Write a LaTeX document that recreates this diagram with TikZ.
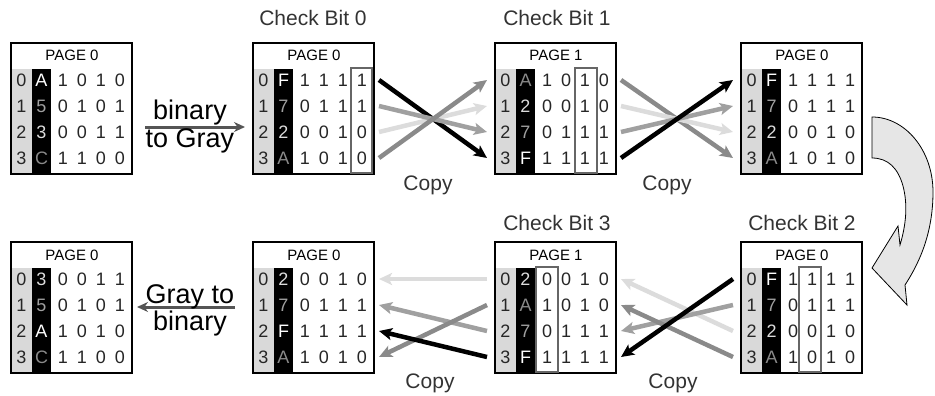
\documentclass[tikz,border=0pt]{standalone}
\usepackage{fontspec}
\setmainfont{Liberation Sans}
\usetikzlibrary{arrows.meta}

\definecolor{idxgray}{HTML}{D9D9D9}
\definecolor{hlgray}{HTML}{666666}
\definecolor{convgray}{HTML}{555555}
\definecolor{bendgray}{HTML}{E6E6E6}
\definecolor{cSeven}{HTML}{A0A0A0}
\definecolor{cTwo}{HTML}{DCDCDC}
\definecolor{cAce}{HTML}{8A8A8A}

% one page of the table: name, left, top, page number, rows
\newcommand{\pagebox}[5]{%
  \begin{scope}[shift={(#2,#3)}]
    \fill[idxgray] (0,26) rectangle (21,131);
    \fill[black] (21,26) rectangle (40,131);
    \node[pagehead] (#1-head) at (61,18) {PAGE #4};
    \foreach \i/\hx/\tc/\ba/\bb/\bc/\bd in {#5} {
      \node[cell] (#1-i\i) at (10.5,37+26*\i) {\i};
      \node[cell, text=\tc] (#1-h\i) at (30.5,37+26*\i) {\hx};
      \node[cell] (#1-a\i) at (52,37+26*\i) {\ba};
      \node[cell] (#1-b\i) at (71,37+26*\i) {\bb};
      \node[cell] (#1-c\i) at (90,37+26*\i) {\bc};
      \node[cell] (#1-d\i) at (109,37+26*\i) {\bd};
      \coordinate (#1-w\i) at (-8,37+26*\i);
      \coordinate (#1-e\i) at (126,37+26*\i);
    }
    \draw[line width=1.5pt] (0,0) rectangle (121,131);
  \end{scope}}

\begin{document}
\begin{tikzpicture}[x=1pt, y=-1pt,
  cell/.style={inner sep=0pt, text=black!85, font=\fontsize{18}{18}\selectfont},
  pagehead/.style={inner sep=0pt, anchor=base, font=\fontsize{15}{15}\selectfont},
  title/.style={inner sep=0pt, anchor=base, text=black!80, font=\fontsize{21}{21}\selectfont},
  big/.style={inner sep=0pt, anchor=base, font=\fontsize{27}{27}\selectfont},
  hl/.style={draw=hlgray, line width=2pt},
  move/.style={line width=4.5pt, -{Stealth[length=13pt, width=12pt, inset=3pt]}},
  conv/.style={draw=convgray, line width=3pt, -{Stealth[length=11pt, width=10pt]}}]
  \useasboundingbox (0,0) rectangle (935,396);

  % top row
  \pagebox{p1}{11}{43}{0}{0/A/white/1/0/1/0, 1/5/cSeven/0/1/0/1,
    2/3/cTwo/0/0/1/1, 3/C/cAce/1/1/0/0}
  \pagebox{cb0}{253}{43}{0}{0/F/white/1/1/1/1, 1/7/cSeven/0/1/1/1,
    2/2/cTwo/0/0/1/0, 3/A/cAce/1/0/1/0}
  \pagebox{cb1}{495}{43}{1}{0/A/cAce/1/0/1/0, 1/2/cTwo/0/0/1/0,
    2/7/cSeven/0/1/1/1, 3/F/white/1/1/1/1}
  \pagebox{p2}{741}{43}{0}{0/F/white/1/1/1/1, 1/7/cSeven/0/1/1/1,
    2/2/cTwo/0/0/1/0, 3/A/cAce/1/0/1/0}

  % bottom row
  \pagebox{p4}{11}{242}{0}{0/3/cTwo/0/0/1/1, 1/5/cSeven/0/1/0/1,
    2/A/white/1/0/1/0, 3/C/cAce/1/1/0/0}
  \pagebox{p3}{253}{242}{0}{0/2/cTwo/0/0/1/0, 1/7/cSeven/0/1/1/1,
    2/F/white/1/1/1/1, 3/A/cAce/1/0/1/0}
  \pagebox{cb3}{495}{242}{1}{0/2/cTwo/0/0/1/0, 1/A/cAce/1/0/1/0,
    2/7/cSeven/0/1/1/1, 3/F/white/1/1/1/1}
  \pagebox{cb2}{741}{242}{0}{0/F/white/1/1/1/1, 1/7/cSeven/0/1/1/1,
    2/2/cTwo/0/0/1/0, 3/A/cAce/1/0/1/0}

  % checked columns
  \draw[hl] (351,68) rectangle (372,173);
  \draw[hl] (575,68) rectangle (597,173);
  \draw[hl] (536,267) rectangle (558,372);
  \draw[hl] (799,267) rectangle (821,372);

  \node[title] (t0) at (313,26) {Check Bit 0};
  \node[title] (t1) at (557,26) {Check Bit 1};
  \node[title] (t3) at (557,230) {Check Bit 3};
  \node[title] (t2) at (802,230) {Check Bit 2};

  % conversions
  \coordinate (g1) at (145,127);
  \coordinate (g2) at (245,127);
  \draw[conv] (g1) -- (g2);
  \node[big] (bin1) at (190,119) {binary};
  \node[big] (gray1) at (190,147) {to Gray};
  \coordinate (g3) at (235,307);
  \coordinate (g4) at (137,307);
  \draw[conv] (g3) -- (g4);
  \node[big] (gray2) at (190,303) {Gray to};
  \node[big] (bin2) at (190,330) {binary};

  % copies
  \draw[move, draw=black] (cb0-e0) -- (cb1-w3);
  \draw[move, draw=cTwo] (cb0-e2) -- (cb1-w1);
  \draw[move, draw=cSeven] (cb0-e1) -- (cb1-w2);
  \draw[move, draw=cAce] (cb0-e3) -- (cb1-w0);

  \draw[move, draw=cAce] (cb1-e0) -- (p2-w3);
  \draw[move, draw=cTwo] (cb1-e1) -- (p2-w2);
  \draw[move, draw=cSeven] (cb1-e2) -- (p2-w1);
  \draw[move, draw=black] (cb1-e3) -- (p2-w0);

  \draw[move, draw=cTwo] (cb2-w2) -- (cb3-e0);
  \draw[move, draw=cSeven] (cb2-w1) -- (cb3-e2);
  \draw[move, draw=cAce] (cb2-w3) -- (cb3-e1);
  \draw[move, draw=black] (cb2-w0) -- (cb3-e3);

  \draw[move, draw=cTwo] (cb3-w0) -- (p3-e0);
  \draw[move, draw=cSeven] (cb3-w2) -- (p3-e1);
  \draw[move, draw=cAce] (cb3-w1) -- (p3-e3);
  \draw[move, draw=black] (cb3-w3) -- (p3-e2);

  \node[title] (cp1) at (428,190) {Copy};
  \node[title] (cp2) at (667,190) {Copy};
  \node[title] (cp3) at (430,388) {Copy};
  \node[title] (cp4) at (673,388) {Copy};

  % turn to the second row
  \filldraw[fill=bendgray, draw=black, line width=0.8pt]
    (872,117) .. controls (905,117) and (933,150) .. (933,192)
    .. controls (933,235) and (918,265) .. (905,285)
    -- (907,305) -- (872,268) -- (898,226) -- (900,245)
    .. controls (906,225) and (908,205) .. (903,186)
    .. controls (898,168) and (888,158) .. (872,158) -- cycle;
\end{tikzpicture}
\end{document}
